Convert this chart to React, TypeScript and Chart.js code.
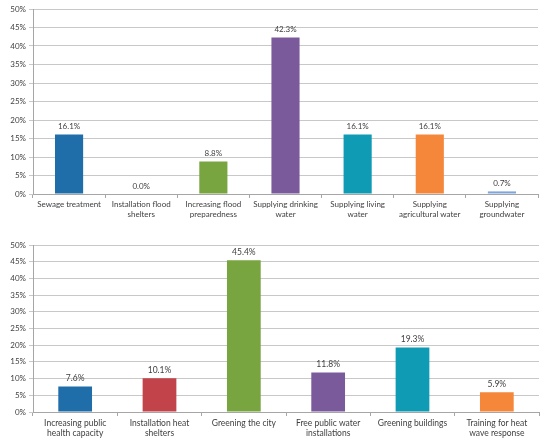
import React, { useEffect, useRef } from "react";
import { Chart, registerables } from "chart.js";

Chart.register(...registerables);

const topCategories: (string | string[])[] = [
  "Sewage treatment",
  ["Installation flood", "shelters"],
  ["Increasing flood", "preparedness"],
  ["Supplying drinking", "water"],
  ["Supplying living", "water"],
  ["Supplying", "agricultural water"],
  ["Supplying", "groundwater"],
];
const topValues = [16.1, 0.0, 8.8, 42.3, 16.1, 16.1, 0.7];
const topColors = ["#1f6eaa", "#1f6eaa", "#78a53f", "#7b5a9b", "#109bb4", "#f5873a", "#7fa6da"];

const bottomCategories: (string | string[])[] = [
  ["Increasing public", "health capacity"],
  ["Installation heat", "shelters"],
  "Greening the city",
  ["Free public water", "installations"],
  "Greening buildings",
  ["Training for heat", "wave response"],
];
const bottomValues = [7.6, 10.1, 45.4, 11.8, 19.3, 5.9];
const bottomColors = ["#1f6eaa", "#c2434a", "#78a53f", "#7b5a9b", "#109bb4", "#f5873a"];

const yTicks = [0, 5, 10, 15, 20, 25, 30, 35, 40, 45, 50];

const FONT = "Lato, 'Liberation Sans', sans-serif";
const TEXT = "#404040";

const valueLabelPlugin = {
  id: "valueLabels",
  afterDatasetsDraw(chart: any, _args: any, opts: any) {
    const ctx = chart.ctx;
    const meta = chart.getDatasetMeta(0);
    const data = chart.data.datasets[0].data as number[];
    ctx.save();
    ctx.font = `${opts.size || 8}px ${FONT}`;
    ctx.fillStyle = TEXT;
    ctx.textAlign = "center";
    ctx.textBaseline = "bottom";
    meta.data.forEach((bar: any, i: number) => {
      ctx.fillText(data[i].toFixed(1) + "%", bar.x, bar.y - 4);
    });
    ctx.restore();
  },
};

function BarPanel(props: {
  labels: (string | string[])[];
  values: number[];
  colors: string[];
  padTop: number;
  padRight: number;
  xHeight: number;
  fontSize: number;
  barPct: number;
}) {
  const ref = useRef<HTMLCanvasElement>(null);
  useEffect(() => {
    if (!ref.current) return;
    const chart = new Chart(ref.current, {
      type: "bar",
      data: {
        labels: props.labels,
        datasets: [
          {
            data: props.values,
            backgroundColor: props.colors,
            borderWidth: 0,
            barPercentage: props.barPct,
            categoryPercentage: 1,
          },
        ],
      },
      options: {
        animation: false,
        responsive: false,
        devicePixelRatio: 1,
        layout: { padding: { top: props.padTop, right: props.padRight, left: 0, bottom: 0 } },
        plugins: {
          legend: { display: false },
          tooltip: { enabled: false },
          valueLabels: { size: props.fontSize },
        } as any,
        scales: {
          x: {
            offset: true,
            grid: {
              offset: true,
              display: true,
              drawOnChartArea: false,
              drawTicks: true,
              tickLength: 4,
              color: "#a6a6a6",
            },
            border: { display: true, color: "#a6a6a6" },
            ticks: {
              color: TEXT,
              font: { family: FONT, size: props.fontSize },
              maxRotation: 0,
              autoSkip: false,
              padding: 2,
            },
            afterFit(scale: any) {
              scale.height = props.xHeight;
            },
          },
          y: {
            min: 0,
            max: 50,
            afterBuildTicks(scale: any) {
              scale.ticks = yTicks.map((v) => ({ value: v }));
            },
            grid: {
              color: "#c8c8c8",
              lineWidth: 1,
              drawTicks: true,
              tickLength: 4,
            },
            border: { display: true, color: "#a6a6a6" },
            ticks: {
              color: TEXT,
              font: { family: FONT, size: 8 },
              padding: 3,
              callback: (v: any) => v + "%",
            },
            afterFit(scale: any) {
              scale.width = 33;
            },
          },
        },
      },
      plugins: [valueLabelPlugin],
    });
    return () => chart.destroy();
  }, []);
  return <canvas ref={ref} width={550} height={223} style={{ display: "block", width: 550, height: 223 }} />;
}

export default function App() {
  useEffect(() => {
    document.body.style.margin = "0";
    document.body.style.background = "#ffffff";
  }, []);
  return (
    <div style={{ position: "absolute", left: 0, top: 0, width: 550, height: 446, background: "#fff" }}>
      <BarPanel
        labels={topCategories}
        values={topValues}
        colors={topColors}
        padTop={9}
        padRight={12}
        xHeight={29}
        fontSize={8}
        barPct={0.39}
      />
      <BarPanel
        labels={bottomCategories}
        values={bottomValues}
        colors={bottomColors}
        padTop={22}
        padRight={11}
        xHeight={34}
        fontSize={8.5}
        barPct={0.4}
      />
    </div>
  );
}
